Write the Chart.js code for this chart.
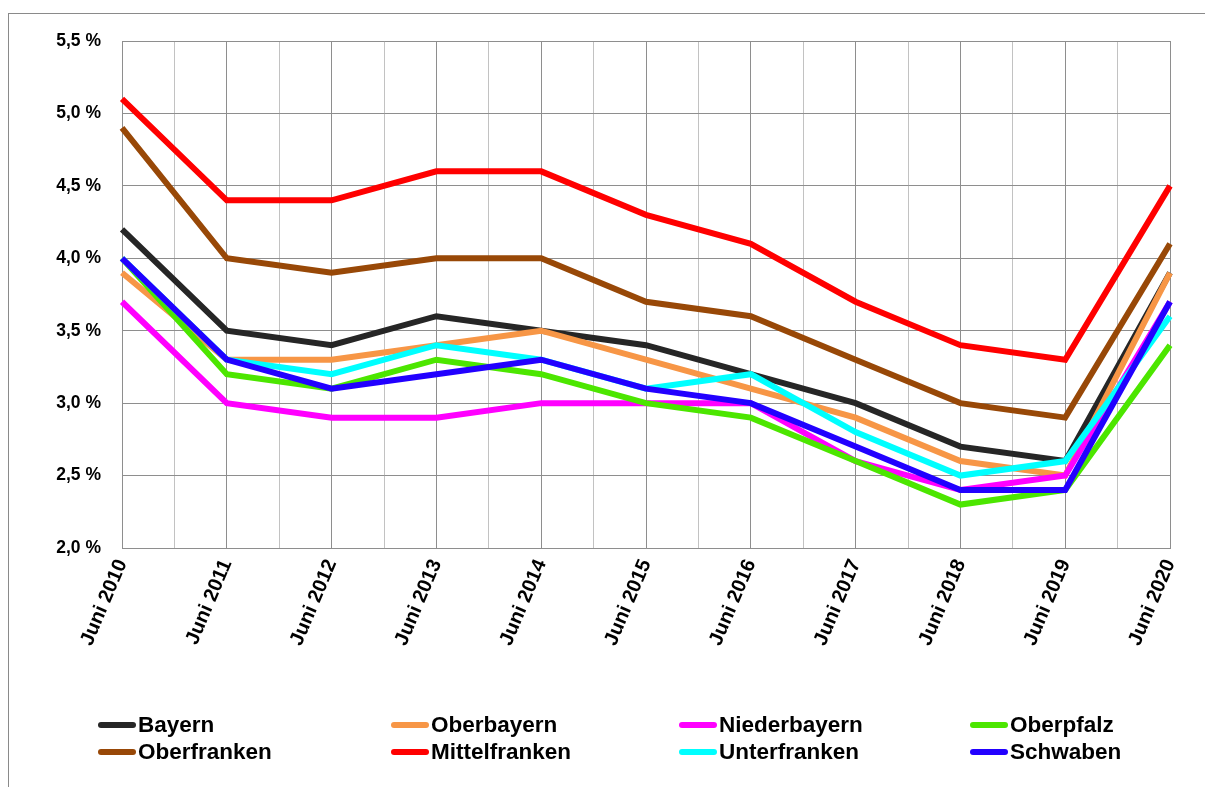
<!DOCTYPE html>
<html>
<head>
<meta charset="utf-8">
<title>Arbeitslosenquote Bayern und Regierungsbezirke</title>
<script src="https://cdn.jsdelivr.net/npm/chart.js@4.4.1/dist/chart.umd.min.js"></script>
<style>
  html, body { margin: 0; padding: 0; background: #fff; }
  #wrap { position: relative; width: 1205px; height: 787px; overflow: hidden; }
  #frame { position: absolute; left: 8px; top: 13px; width: 1400px; height: 1000px;
           border: 1px solid #8a8a8a; box-sizing: border-box; }
  #c { position: absolute; left: 0; top: 0; }
  .item { position: absolute; display: flex; align-items: center; height: 27px;
          font: bold 22.5px "Liberation Sans", Arial, sans-serif; color: #000; white-space: nowrap; }
  .swatch { width: 38px; height: 6px; border-radius: 3px; margin-right: 2px; flex: none; }
</style>
</head>
<body>
<div id="wrap">
  <div id="frame"></div>
  <canvas id="c" width="1205" height="787"></canvas>
  <div id="legend"></div>
</div>
<script>
// Categories (x axis) and y tick labels
const categories = ['Juni 2010', 'Juni 2011', 'Juni 2012', 'Juni 2013', 'Juni 2014', 'Juni 2015',
                    'Juni 2016', 'Juni 2017', 'Juni 2018', 'Juni 2019', 'Juni 2020'];
const yTickLabels = ['2,0 %', '2,5 %', '3,0 %', '3,5 %', '4,0 %', '4,5 %', '5,0 %', '5,5 %'];

// Unemployment rate in percent, one array per region
const bayern        = [4.2, 3.5, 3.4, 3.6, 3.5, 3.4, 3.2, 3.0, 2.7, 2.6, 3.9];
const oberbayern    = [3.9, 3.3, 3.3, 3.4, 3.5, 3.3, 3.1, 2.9, 2.6, 2.5, 3.9];
const niederbayern  = [3.7, 3.0, 2.9, 2.9, 3.0, 3.0, 3.0, 2.6, 2.4, 2.5, 3.7];
const oberpfalz     = [4.0, 3.2, 3.1, 3.3, 3.2, 3.0, 2.9, 2.6, 2.3, 2.4, 3.4];
const oberfranken   = [4.9, 4.0, 3.9, 4.0, 4.0, 3.7, 3.6, 3.3, 3.0, 2.9, 4.1];
const mittelfranken = [5.1, 4.4, 4.4, 4.6, 4.6, 4.3, 4.1, 3.7, 3.4, 3.3, 4.5];
const unterfranken  = [4.0, 3.3, 3.2, 3.4, 3.3, 3.1, 3.2, 2.8, 2.5, 2.6, 3.6];
const schwaben      = [4.0, 3.3, 3.1, 3.2, 3.3, 3.1, 3.0, 2.7, 2.4, 2.4, 3.7];

const seriesNames  = ['Bayern', 'Oberbayern', 'Niederbayern', 'Oberpfalz',
                      'Oberfranken', 'Mittelfranken', 'Unterfranken', 'Schwaben'];
const seriesValues = [bayern, oberbayern, niederbayern, oberpfalz,
                      oberfranken, mittelfranken, unterfranken, schwaben];
const seriesColors = ['#262626', '#F79646', '#FF00FF', '#4CE600',
                      '#984807', '#FF0000', '#00FFFF', '#2200FF'];

const FONT = '"Liberation Sans", Arial, sans-serif';
const GRID_MAJOR = '#8e8e8e';
const GRID_MINOR = '#c2c2c2';

// Later series are painted on top of earlier ones
const datasets = seriesNames.map((name, i) => ({
  label: name,
  data: seriesValues[i],
  borderColor: seriesColors[i],
  backgroundColor: seriesColors[i],
  borderWidth: 6,
  pointRadius: 0,
  pointHoverRadius: 0,
  tension: 0,
  fill: false,
  borderJoinStyle: 'miter',
  order: seriesNames.length - i
}));

new Chart(document.getElementById('c'), {
  type: 'line',
  data: { labels: categories, datasets },
  options: {
    responsive: false,
    animation: false,
    events: [],
    layout: { padding: { left: 0, right: 35, top: 41, bottom: 119 } },
    plugins: { legend: { display: false }, tooltip: { enabled: false }, title: { display: false } },
    scales: {
      x: {
        type: 'category',
        offset: false,
        grid: { display: false, drawTicks: false },
        border: { display: true, color: GRID_MAJOR, width: 1 },
        ticks: {
          autoSkip: false,
          minRotation: 67,
          maxRotation: 67,
          padding: 8,
          color: '#000',
          font: { family: FONT, size: 20, weight: 'bold' }
        },
        afterFit: s => { s.height = 120; }
      },
      xg: {
        type: 'linear',
        position: 'bottom',
        min: 0,
        max: categories.length - 1,
        grid: {
          drawTicks: false,
          lineWidth: 1,
          color: ctx => (ctx.tick && ctx.tick.value % 1 === 0) ? GRID_MAJOR : GRID_MINOR
        },
        border: { display: false },
        ticks: { display: false, stepSize: 0.5 },
        afterFit: s => { s.height = 0; }
      },
      y: {
        min: 2,
        max: 5.5,
        grid: { color: GRID_MAJOR, lineWidth: 1, drawTicks: false },
        border: { display: true, color: GRID_MAJOR, width: 1 },
        ticks: {
          stepSize: 0.5,
          padding: 21,
          color: '#000',
          font: { family: FONT, size: 17.5, weight: 'bold' },
          callback: (v, i) => yTickLabels[i]
        },
        afterFit: s => { s.width = 122; }
      }
    }
  }
});

// Legend: two rows, four columns
const legendCols = [98, 391, 679, 970];
const legendRows = [725, 752];
const legend = document.getElementById('legend');
seriesNames.forEach((name, i) => {
  const el = document.createElement('div');
  el.className = 'item';
  el.style.left = legendCols[i % 4] + 'px';
  el.style.top = (legendRows[Math.floor(i / 4)] - 13.5) + 'px';
  const sw = document.createElement('span');
  sw.className = 'swatch';
  sw.style.background = seriesColors[i];
  const tx = document.createElement('span');
  tx.textContent = name;
  el.appendChild(sw);
  el.appendChild(tx);
  legend.appendChild(el);
});
</script>
</body>
</html>
